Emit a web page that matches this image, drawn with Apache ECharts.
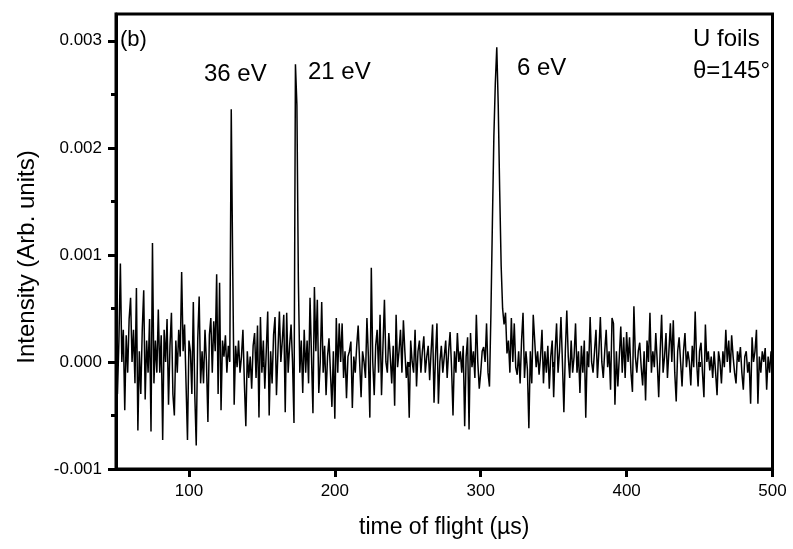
<!DOCTYPE html>
<html>
<head>
<meta charset="utf-8">
<script src="https://cdn.jsdelivr.net/npm/echarts@6/dist/echarts.min.js"></script>
<style>html,body{margin:0;padding:0;background:#fff}#c{width:793px;height:549px}</style>
</head>
<body>
<div id="c"></div>
<script>
// time axis (µs): first sample and spacing
const timeStart = 50;
const timeStep = 1;
// Intensity in units of 1e-4 (Arb. units), one value per µs from 50 to 500
const intensityE4 = [
  1, -3, 2, 9.2, 0, 3, -4.5, 2.5, -1, 4,
  6, 0, 3, -2, 6.9, -6.4, 1, -3, 3, 6.7,
  -3.5, 2, -1, 4, -6.5, 11.1, -2, 2, -1, 4.9,
  -1, 2.5, -7.3, 3, 0, 4, -4, 1.5, 4.6, -3,
  -5, 2, -1, 3, 0.5, 8.4, 1, 3.5, -2, -7.3,
  2, 1, -3, 5.6, -3, -7.8, 2, 6.1, -2, 1,
  -2, 3, 0, -5.6, 2.5, 4.1, -1, 3.8, 1, 8.2,
  -3, 7.4, -4.5, 2, 0.5, 2.5, -1, 1.5, 0, 23.6,
  8.8, -4, 1.5, -0.5, 2, -1, 0.5, 3, -2, -6,
  1, -1.5, 0.5, -2.5, 1.5, 2.7, -1.5, 3.4, -5.2, 4.2,
  -1, 2, -2.5, 1, 4.7, -5, 1, -2, 2.5, 4.2,
  -3.1, 1, 4.7, 0, 2, 4.4, -4.7, 4.6, -1, 1.5,
  3.5, 0, -5.7, 27.8, 24, 7.7, -1, 2, -2.9, 3,
  -1, 2, -2, 6, 0.5, -4.8, 7, 1, 5.8, -2.9,
  0, 5.6, -1, 1.5, -3.1, 0.5, 2.2, -1, -4.2, 1,
  -5.3, 4.1, -1, 3.6, 0, 3.6, -1.5, 1, -3.4, 0.5,
  1, 1.9, -4.3, 0.5, -1, 1.5, 3.4, 0, -3.3, 1,
  0, -1.5, 4.1, 0.5, -5.2, 8.8, 0, -3.1, 1.5, 3,
  -1, 4.4, -3.1, 1.5, 5.8, 0, -1, 2.7, 0.5, -2,
  1.5, -4.1, 4.4, -0.5, 1, 3, -1, 3.9, 1, -1.5,
  0, -5.2, 2, 0, -1, 3, -2.3, 1, 2, -1,
  1, 2.4, -1, 0.5, 1.5, -1.7, 1, 3.5, -3.8, 0.5,
  3.6, -3.9, 0, 1.5, -1, 0.5, 2, -1.5, 1, 2.8,
  -0.5, -5, 1, -1, 2.7, 0, 1, -1, 1.5, -6,
  0.5, 2.3, -6.3, 2.7, -0.5, 1, -1.5, 4.4, 0, -2.5,
  -1, 1, 1.4, 0, 3.6, -1, -2.3, 4.6, 13, 21,
  26, 29.4, 24, 16, 9, 5, 3.5, 4.6, 0.8, 2,
  -1, 4.1, 0, 3.6, -0.5, -1.2, 1, -2, 2, 4.6,
  -1.5, 1, -0.7, -6.2, 1, -2, 4.4, 2, -0.5, 1,
  -1.2, 0.5, 3, -2, 1, -1, 1.5, -2.5, 0.5, 2,
  -3.3, 1, 3.6, -1, 1, 4.2, 0, -4.7, 1, 4.8,
  0.5, -1.5, 2, -1, 0.5, 3.6, -1, 1, -2.9, 1.5,
  -1, 2, -5.2, 1, -0.5, 4.2, 0, -1, 1, 3,
  -1.5, 1, 4.2, 0, -1.5, 1, 3, -0.5, 1, -2.6,
  4.1, 3.6, -4, 1, -2.3, 0.5, 3.3, -1, 2.3, -1.5,
  2.8, 0, 2.3, -1, -2.8, 5.2, 0.5, -1, 1, 1.8,
  -0.5, -2.2, 1, -3.6, 2, 0, 4.6, -1, 1, -0.5,
  2.7, 0, -3.3, 1, 4.4, -1, 0.5, 2.7, -1.5, 1,
  3.6, 0, 3.9, -1, -3.7, 1, 2.3, 0, -2.3, 1,
  2.7, -0.5, 1, 0, -2.2, 1.5, -0.5, 4.7, 0, -2.3,
  1, 1.8, -1, -3.3, 3.5, 0, 1, -0.8, 0.5, -1.5,
  1, -1, -3.1, 1, 0, -2, 1, -0.5, 3, 0,
  2, -1, 2.5, 0.5, -1, -2, 1, 0, 1.4, -1,
  -2.6, 0.5, 1, -1, 0, -3.9, 2.3, 0, 1, 3,
  -3.9, 0.5, -1, 1, 0, 1.3, -2.6, 0.5, -1, 1, 0
];
const xMajorTicks = [100, 200, 300, 400, 500];
const xMinorTicks = [50, 150, 250, 350, 450];
const yMajorTicks = [-0.001, 0, 0.001, 0.002, 0.003];
const yMinorTicks = [-0.0005, 0.0005, 0.0015, 0.0025];
const xRange = [50, 500];
const yRange = [-0.001, 0.00325];

const FONT = '"Liberation Sans", Arial, Helvetica, sans-serif';
const seriesData = intensityE4.map((v, i) => [timeStart + i * timeStep, v * 1e-4]);

const chart = echarts.init(document.getElementById('c'), null, {renderer: 'canvas'});
const axisCommon = {
  type: 'value',
  splitLine: {show: false},
  axisLine: {show: true, onZero: false, lineStyle: {color: '#000', width: 3}},
};
chart.setOption({
  animation: false,
  backgroundColor: '#fff',
  grid: {left: 116, right: 20.5, top: 14, bottom: 80, show: true, borderColor: '#000', borderWidth: 3, containLabel: false},
  xAxis: [
    Object.assign({}, axisCommon, {
      min: xRange[0], max: xRange[1], position: 'bottom',
      axisTick: {show: true, customValues: xMajorTicks, length: 8, lineStyle: {color: '#000', width: 3}},
      axisLabel: {customValues: xMajorTicks, fontSize: 17, color: '#000', fontFamily: FONT, margin: 14},
      name: 'time of flight (\u00b5s)', nameLocation: 'middle', nameGap: 47,
      nameTextStyle: {fontSize: 23, color: '#000', fontFamily: FONT}
    }),
    Object.assign({}, axisCommon, {
      min: xRange[0], max: xRange[1], position: 'bottom',
      axisLine: {show: false},
      axisTick: {show: true, customValues: xMinorTicks, length: 5, lineStyle: {color: '#000', width: 3}},
      axisLabel: {show: false}
    })
  ],
  yAxis: [
    Object.assign({}, axisCommon, {
      min: yRange[0], max: yRange[1], position: 'left',
      axisTick: {show: true, customValues: yMajorTicks, length: 8, lineStyle: {color: '#000', width: 3}},
      axisLabel: {customValues: yMajorTicks, fontSize: 17, color: '#000', fontFamily: FONT, margin: 14,
        formatter: v => v.toFixed(3)}
    }),
    Object.assign({}, axisCommon, {
      min: yRange[0], max: yRange[1], position: 'left',
      axisLine: {show: false},
      axisTick: {show: true, customValues: yMinorTicks, length: 5, lineStyle: {color: '#000', width: 3}},
      axisLabel: {show: false}
    })
  ],
  series: [{
    type: 'line',
    xAxisIndex: 0, yAxisIndex: 0,
    data: seriesData,
    showSymbol: false,
    symbol: 'none',
    lineStyle: {color: '#000', width: 1.5},
    silent: true,
    clip: true
  }],
  graphic: [
    {type: 'text', x: 27, y: 257, rotation: Math.PI / 2,
      style: {text: 'Intensity (Arb. units)', font: '24px ' + FONT, fill: '#000', align: 'center', verticalAlign: 'middle'}},
    {type: 'text', x: 120, y: 40, style: {text: '(b)', font: '22px ' + FONT, fill: '#000', verticalAlign: 'middle'}},
    {type: 'text', x: 204, y: 74, style: {text: '36 eV', font: '24px ' + FONT, fill: '#000', verticalAlign: 'middle'}},
    {type: 'text', x: 308, y: 72, style: {text: '21 eV', font: '24px ' + FONT, fill: '#000', verticalAlign: 'middle'}},
    {type: 'text', x: 517, y: 68, style: {text: '6 eV', font: '24px ' + FONT, fill: '#000', verticalAlign: 'middle'}},
    {type: 'text', x: 693, y: 39, style: {text: 'U foils', font: '24px ' + FONT, fill: '#000', verticalAlign: 'middle'}},
    {type: 'text', x: 693, y: 71, style: {text: '\u03b8=145\u00b0', font: '24px ' + FONT, fill: '#000', verticalAlign: 'middle'}}
  ]
});
</script>
</body>
</html>
